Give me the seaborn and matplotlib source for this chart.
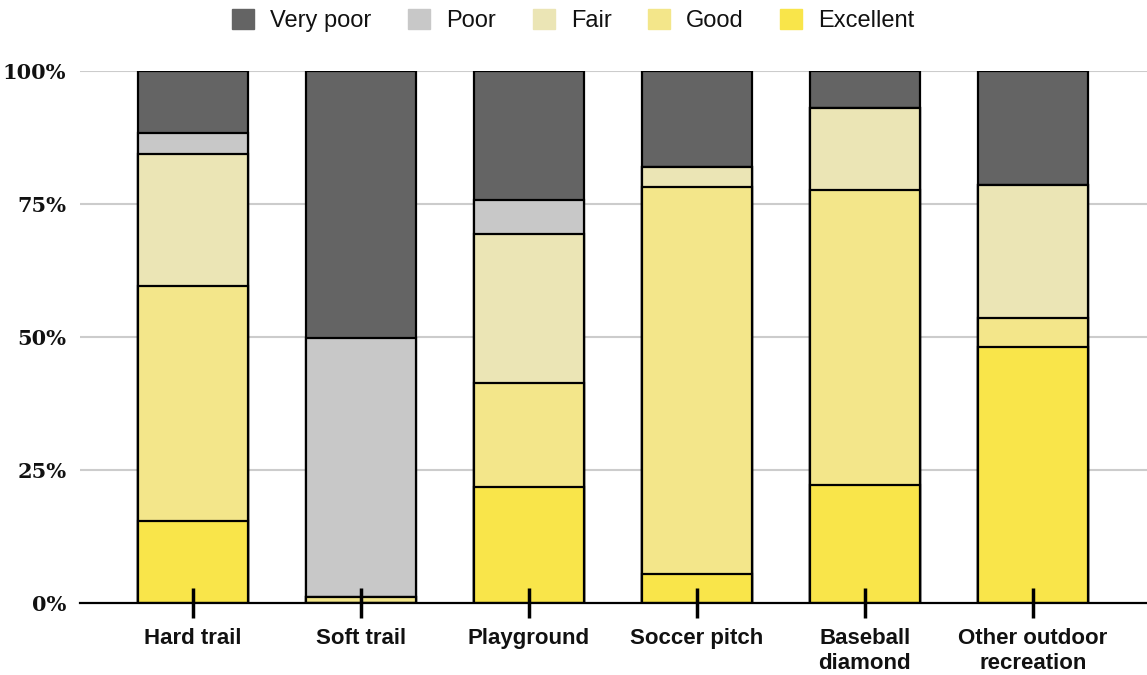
import numpy as np
import pandas as pd
import matplotlib
matplotlib.use("Agg")
import matplotlib.pyplot as plt
from matplotlib.patches import Patch
import seaborn as sns

# data (percent of respondents)
facilities = ["Hard trail", "Soft trail", "Playground", "Soccer pitch",
              "Baseball\ndiamond", "Other outdoor\nrecreation"]
excellent = [15.4, 0.0, 21.8, 5.5, 22.2, 48.1]
good = [44.2, 1.1, 19.6, 72.7, 55.4, 5.5]
fair = [24.8, 0.0, 28.0, 3.8, 15.4, 25.0]
poor = [3.9, 48.7, 6.4, 0.0, 0.0, 0.0]
very_poor = [11.7, 50.2, 24.2, 18.0, 7.0, 21.4]

ratings = ["Very poor", "Poor", "Fair", "Good", "Excellent"]
colors = {"Very poor": "#646464", "Poor": "#c8c8c8", "Fair": "#ebe5b5",
          "Good": "#f3e68a", "Excellent": "#f9e54a"}
yticks = [0, 25, 50, 75, 100]

df = pd.DataFrame({"facility": facilities, "Excellent": excellent, "Good": good,
                   "Fair": fair, "Poor": poor, "Very poor": very_poor})
# cumulative from the bottom so we can overlay bars
stack_order = ["Excellent", "Good", "Fair", "Poor", "Very poor"]
cum = df[stack_order].cumsum(axis=1)

sns.set_style("white")
fig = plt.figure(figsize=(11.47, 6.75), dpi=100)
ax = fig.add_axes([0.07, 0.107, 0.93, 0.788])
ax.set_axisbelow(False)

for y in yticks[1:]:
    ax.axhline(y, color="#cccccc", linewidth=1.5, zorder=0)

for r in reversed(stack_order):
    sns.barplot(x=df["facility"], y=cum[r], color=colors[r], width=0.655,
                edgecolor="black", linewidth=1.6, saturation=1, ax=ax, zorder=1)

ax.set_ylim(0, 100)
ax.set_xlim(-0.67, 5.68)
ax.set_yticks(yticks)
ax.set_yticklabels([f"{v}%" for v in yticks],
                   family="DejaVu Serif", fontweight="bold", fontsize=15, color="#111111")
ax.tick_params(axis="y", length=0, pad=10)
ax.tick_params(axis="x", bottom=True, direction="inout", length=21, width=2.5,
               color="black", pad=8)
for lab in ax.get_xticklabels():
    lab.set_family("Liberation Sans")
    lab.set_fontweight("bold")
    lab.set_fontsize(16)
    lab.set_color("#111111")
    lab.set_linespacing(1.25)
ax.set_xlabel("")
ax.set_ylabel("")
for s in ["top", "right", "left"]:
    ax.spines[s].set_visible(False)
ax.spines["bottom"].set_color("black")
ax.spines["bottom"].set_linewidth(1.6)
ax.spines["bottom"].set_zorder(4)

handles = [Patch(facecolor=colors[r], edgecolor=colors[r], label=r) for r in ratings]
fig.legend(handles=handles, loc="center", bbox_to_anchor=(0.5, 0.97), ncol=5,
           frameon=False, prop={"family": "Liberation Sans", "size": 17},
           labelcolor="#111111", handlelength=0.93, handleheight=0.93,
           columnspacing=1.55, handletextpad=0.68)

fig.savefig("out.png", dpi=100)
